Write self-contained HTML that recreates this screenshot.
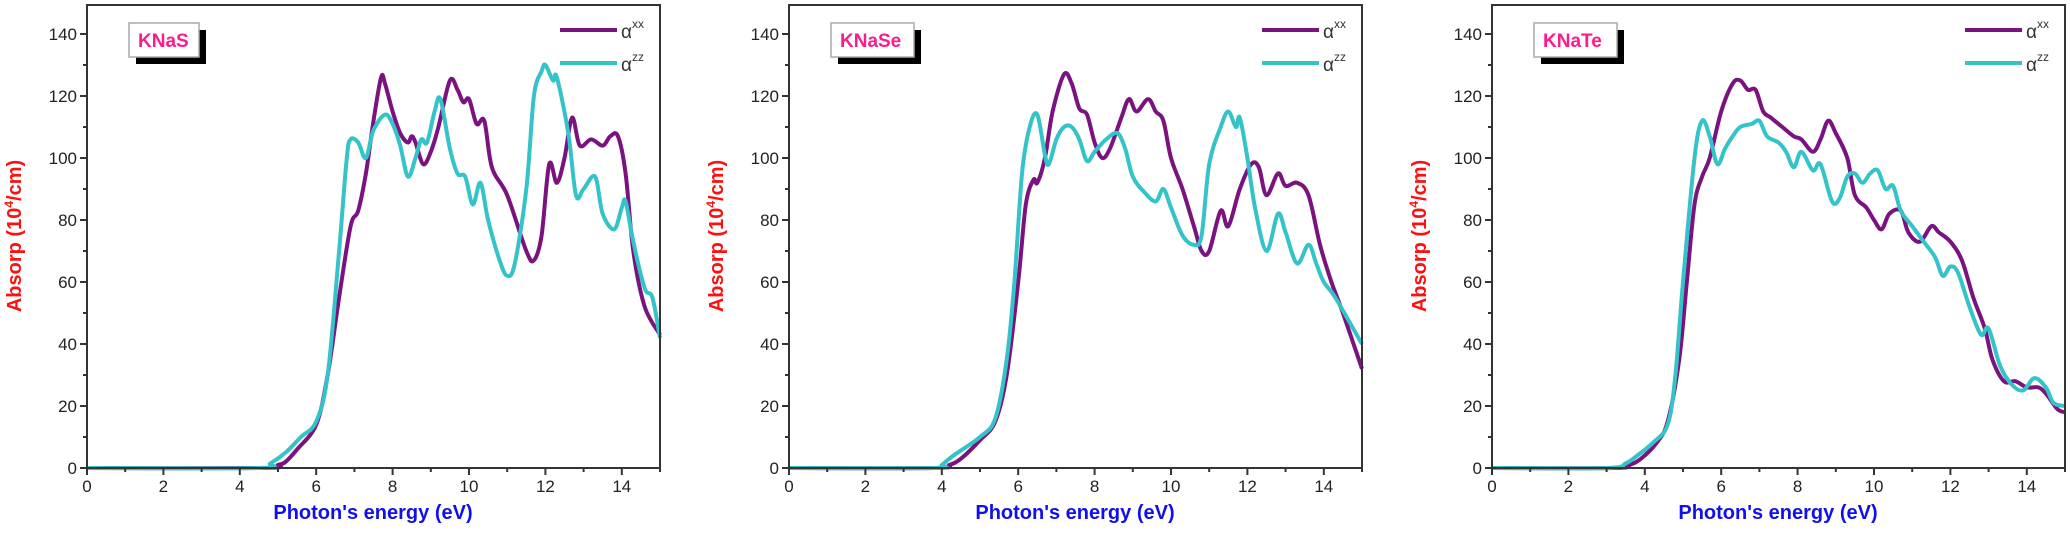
<!DOCTYPE html>
<html><head><meta charset="utf-8"><style>
html,body{margin:0;padding:0;background:#fff;}
svg{display:block;}
text{font-family:"Liberation Sans",Arial,sans-serif;}
</style></head><body>
<svg id="s" width="2070" height="538" viewBox="0 0 2070 538" xmlns="http://www.w3.org/2000/svg"></svg>
<script>
const S=document.getElementById('s');
const NS='http://www.w3.org/2000/svg';
function el(t,a,txt){const e=document.createElementNS(NS,t);for(const k in a)e.setAttribute(k,a[k]);if(txt!==undefined)e.textContent=txt;S.appendChild(e);return e;}
const Y0=468,SY=3.1,SX=38.2,TOP=5;
const panels=[
{x0:87,name:'KNaS',
xx:[[0,0],[4.6,0],[5,1],[5.2,2],[5.5,6],[6,14],[6.3,30],[6.6,55],[6.9,78],[7.1,83],[7.3,95],[7.5,112],[7.7,126],[7.8,124],[8,115],[8.2,108],[8.4,105],[8.5,107],[8.6,105],[8.8,98],[9,102],[9.2,110],[9.5,125],[9.7,122],[9.85,118],[10,119],[10.2,111],[10.4,112],[10.6,97],[11,88],[11.5,70],[11.7,67],[11.9,75],[12.1,98],[12.3,92],[12.5,100],[12.7,113],[12.9,104],[13.2,106],[13.5,104],[13.7,107],[13.9,107],[14.1,95],[14.3,70],[14.6,52],[15,43]],
zz:[[0,0],[4.5,0],[4.8,1.5],[5.2,5],[5.6,10],[6,15],[6.3,30],[6.6,70],[6.8,100],[6.9,106],[7.1,105],[7.3,100],[7.5,109],[7.8,114],[8,111],[8.2,104],[8.4,94],[8.6,100],[8.75,106],[8.9,105],[9.1,115],[9.25,119],[9.5,103],[9.7,95],[9.9,94],[10.1,85],[10.3,92],[10.5,80],[10.8,67],[11,62],[11.2,66],[11.5,90],[11.7,120],[11.9,128],[12,130],[12.2,125],[12.3,126],[12.6,108],[12.8,88],[13,90],[13.3,94],[13.5,82],[13.8,77],[14,84],[14.1,86],[14.3,73],[14.6,58],[14.8,55],[15,42]]},
{x0:789,name:'KNaSe',
xx:[[0,0],[3.8,0],[4.2,1],[4.5,3],[5,9],[5.4,15],[5.7,30],[6,60],[6.2,85],[6.4,93],[6.5,92],[6.7,100],[6.9,115],[7.2,127],[7.4,124],[7.6,116],[7.8,114],[8,105],[8.2,100],[8.4,103],[8.7,113],[8.9,119],[9.1,115],[9.4,119],[9.6,115],[9.8,112],[10,100],[10.3,90],[10.6,78],[10.8,70],[11,70],[11.3,83],[11.5,78],[11.8,90],[12.1,98],[12.3,97],[12.5,88],[12.8,95],[13,91],[13.3,92],[13.6,88],[13.9,72],[14.2,60],[14.5,50],[15,32]],
zz:[[0,0],[3.8,0],[4,1],[4.3,4],[5,10],[5.4,16],[5.7,35],[5.9,60],[6.1,95],[6.3,110],[6.5,114],[6.7,101],[6.8,98],[7,106],[7.2,110],[7.4,110],[7.6,106],[7.8,99],[8,102],[8.3,106],[8.6,108],[8.8,103],[9,94],[9.3,89],[9.6,86],[9.8,90],[10,84],[10.3,75],[10.6,72],[10.8,75],[11,98],[11.3,110],[11.5,115],[11.7,110],[11.8,113],[12,100],[12.2,84],[12.5,70],[12.8,82],[13,76],[13.3,66],[13.6,72],[13.8,66],[14,60],[14.3,55],[15,40]]},
{x0:1492,name:'KNaTe',
xx:[[0,0],[3.2,0],[3.6,1],[3.9,3],[4.3,8],[4.6,15],[4.9,35],[5.1,60],[5.3,85],[5.5,94],[5.7,100],[6,115],[6.3,124],[6.5,125],[6.7,122],[6.9,122],[7.1,115],[7.3,113],[7.6,110],[7.9,107],[8.1,106],[8.4,102],[8.6,106],[8.8,112],[9,108],[9.3,100],[9.5,88],[9.8,84],[10,80],[10.2,77],[10.4,82],[10.7,83],[10.9,76],[11.2,73],[11.5,78],[11.7,76],[12,73],[12.3,67],[12.6,55],[12.9,45],[13.1,35],[13.4,28],[13.7,28],[14,26],[14.3,26],[14.5,24],[14.8,19],[15,18]],
zz:[[0,0],[3,0],[3.5,1.5],[3.8,4],[4.2,8],[4.6,14],[4.8,30],[5,60],[5.3,100],[5.5,112],[5.7,107],[5.9,98],[6.1,103],[6.3,107],[6.5,110],[6.8,111],[7,112],[7.2,107],[7.5,105],[7.7,102],[7.9,97],[8.1,102],[8.4,96],[8.6,98],[8.9,86],[9.1,87],[9.3,94],[9.5,95],[9.7,92],[9.9,95],[10.1,96],[10.3,90],[10.5,91],[10.7,83],[11,78],[11.3,73],[11.6,68],[11.8,62],[12,65],[12.2,63],[12.5,52],[12.8,43],[13,45],[13.3,33],[13.6,27],[13.9,25],[14.2,29],[14.5,26],[14.7,21],[15,20]]}
];
function path(pts,x0){
 const p=pts.map(d=>[x0+d[0]*SX,Y0-d[1]*SY]);
 let s='M'+p[0][0].toFixed(1)+','+p[0][1].toFixed(1);
 for(let i=0;i<p.length-1;i++){
  const a=p[Math.max(0,i-1)],b=p[i],c=p[i+1],d=p[Math.min(p.length-1,i+2)];
  const c1=[b[0]+(c[0]-a[0])/6,b[1]+(c[1]-a[1])/6],c2=[c[0]-(d[0]-b[0])/6,c[1]-(d[1]-b[1])/6];
  s+=' C'+c1.map(v=>v.toFixed(1)).join(',')+' '+c2.map(v=>v.toFixed(1)).join(',')+' '+c.map(v=>v.toFixed(1)).join(',');
 }
 return s;
}
const PUR='#7a1280',CY='#33c3c9';
panels.forEach(P=>{
 const x0=P.x0,x1=x0+15*SX;
 // data
 el('path',{d:path(P.xx,x0),fill:'none',stroke:PUR,'stroke-width':4,'stroke-linejoin':'round'});
 el('path',{d:path(P.zz,x0),fill:'none',stroke:CY,'stroke-width':4,'stroke-linejoin':'round'});
 // frame
 el('rect',{x:x0,y:TOP,width:x1-x0,height:Y0-TOP,fill:'none',stroke:'#333','stroke-width':2});
 // y ticks
 for(let v=0;v<=140;v+=10){const y=Y0-v*SY;const maj=v%20==0;
  el('line',{x1:x0-(maj?7:4),x2:x0,y1:y,y2:y,stroke:'#333','stroke-width':2});
  if(maj)el('text',{x:x0-10,y:y+6,'font-size':17,'text-anchor':'end',fill:'#222'},v);}
 for(let e=0;e<=15;e++){const x=x0+e*SX;const maj=e%2==0;
  el('line',{x1:x,x2:x,y1:Y0,y2:Y0+(maj?7:4),stroke:'#333','stroke-width':2});
  if(maj)el('text',{x:x,y:Y0+24,'font-size':17,'text-anchor':'middle',fill:'#222'},e);}
 // axis titles
 el('text',{x:x0+286,y:519,'font-size':20,'font-weight':'bold','text-anchor':'middle',fill:'#1010ee'},"Photon's energy (eV)");
 const t=el('text',{x:0,y:0,'font-size':20,'font-weight':'bold','text-anchor':'middle',fill:'#ff1010',transform:`translate(${x0-66},236) rotate(-90)`});
 t.innerHTML='Absorp (10<tspan font-size="12" dy="-8">4</tspan><tspan dy="8">/cm)</tspan>';
 // name box
 el('rect',{x:x0+49,y:30,width:P.name.length*13+18,height:34,fill:'#000'});
 el('rect',{x:x0+42,y:23,width:P.name.length*13+18,height:34,fill:'#fff',stroke:'#aaa','stroke-width':1.5});
 el('text',{x:x0+51,y:47,'font-size':19,'font-weight':'bold',fill:'#ff1a8c'},P.name);
 // legend
 el('line',{x1:x1-100,x2:x1-43,y1:30,y2:30,stroke:PUR,'stroke-width':4});
 el('line',{x1:x1-100,x2:x1-43,y1:63,y2:63,stroke:CY,'stroke-width':4});
 const l1=el('text',{x:x1-39,y:38,'font-size':19,fill:'#333'});l1.innerHTML='α<tspan font-size="12" dy="-10">xx</tspan>';
 const l2=el('text',{x:x1-39,y:71,'font-size':19,fill:'#333'});l2.innerHTML='α<tspan font-size="12" dy="-10">zz</tspan>';
});
</script>
</body></html>
